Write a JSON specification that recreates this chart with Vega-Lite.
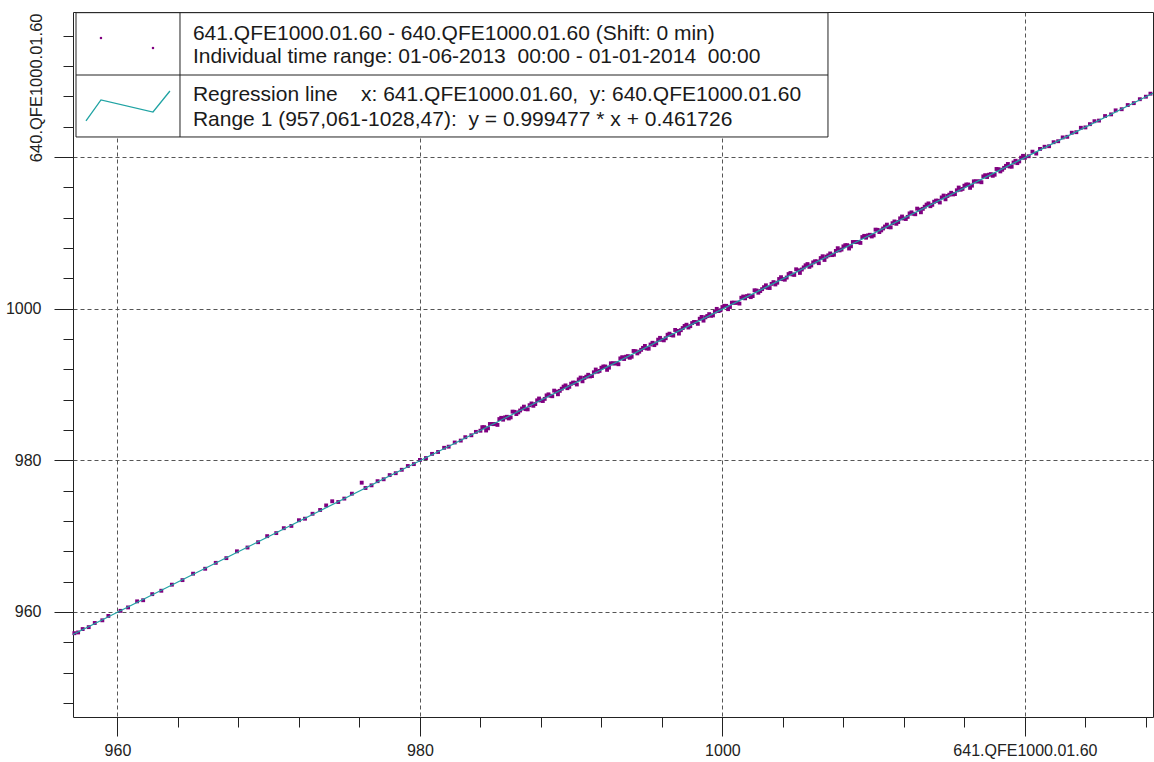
{
  "$schema": "https://vega.github.io/schema/vega-lite/v6.json",
  "width": 1080,
  "height": 705,
  "autosize": {"type": "none"},
  "padding": {"left": 73, "top": 12, "right": 1, "bottom": 45},
  "background": "white",
  "config": {"view": {"stroke": "#222222", "strokeWidth": 1}, "font": "Liberation Sans"},
  "datasets": {
    "pts": [
      {"x":957.15,"y":957.2},{"x":957.4,"y":957.3},{"x":957.7,"y":957.75},{"x":958.1,"y":958.0},{"x":958.5,"y":958.55},{"x":959.0,"y":958.9},{"x":959.4,"y":959.48},{"x":960.2,"y":960.15},{"x":960.7,"y":960.6},{"x":961.3,"y":961.4},{"x":961.7,"y":961.55},{"x":962.3,"y":962.35},{"x":962.9,"y":962.8},{"x":963.6,"y":963.6},{"x":964.3,"y":964.2},{"x":965.0,"y":965.05},{"x":965.8,"y":965.7},{"x":966.5,"y":966.48},{"x":967.2,"y":967.1},{"x":967.9,"y":968.0},{"x":968.6,"y":968.5},{"x":969.3,"y":969.2},{"x":969.9,"y":970.0},{"x":970.5,"y":970.4},{"x":971.0,"y":971.05},{"x":971.5,"y":971.35},{"x":972.0,"y":972.1},{"x":972.4,"y":972.3},{"x":972.9,"y":972.95},{"x":973.4,"y":973.45},{"x":973.8,"y":974.05},{"x":974.2,"y":974.6},{"x":974.6,"y":974.5},{"x":975.0,"y":974.95},{"x":975.5,"y":975.6},{"x":976.15,"y":977.05},{"x":976.4,"y":976.35},{"x":976.8,"y":976.7},{"x":977.2,"y":977.25},{"x":977.6,"y":977.5},{"x":978.0,"y":978.05},{"x":978.4,"y":978.3},{"x":978.8,"y":978.75},{"x":979.2,"y":979.25},{"x":979.6,"y":979.5},{"x":980.0,"y":980.05},{"x":980.4,"y":980.3},{"x":980.8,"y":980.85},{"x":981.2,"y":981.1},{"x":981.6,"y":981.65},{"x":981.9,"y":981.8},{"x":982.3,"y":982.35},{"x":982.7,"y":982.6},{"x":983.0,"y":983.05},{"x":983.4,"y":983.3},{"x":983.7,"y":983.75},{"x":984.0,"y":983.9},
      {"x":984.25,"y":984.37},{"x":984.5,"y":984.22},{"x":984.75,"y":984.79},{"x":985,"y":984.79},{"x":985.25,"y":985.44},{"x":985.5,"y":985.36},{"x":985.75,"y":985.74},{"x":986,"y":985.66},{"x":986.25,"y":986.39},{"x":986.5,"y":986.32},{"x":986.75,"y":986.83},{"x":987,"y":986.75},{"x":987.25,"y":987.27},{"x":987.5,"y":987.19},{"x":987.75,"y":987.91},{"x":988,"y":987.89},
      {"x":988.25,"y":988.1},{"x":988.5,"y":988.7},{"x":988.75,"y":988.45},{"x":989,"y":989.06},{"x":989.25,"y":989.16},{"x":989.5,"y":989.72},{"x":989.75,"y":989.51},{"x":990,"y":990.1},{"x":990.25,"y":990.23},{"x":990.5,"y":990.67},{"x":990.75,"y":990.42},{"x":991,"y":991.03},{"x":991.25,"y":991.06},{"x":991.5,"y":991.61},{"x":991.75,"y":991.68},{"x":992,"y":992.21},
      {"x":992.25,"y":992.37},{"x":992.5,"y":992.22},{"x":992.75,"y":992.79},{"x":993,"y":992.79},{"x":993.25,"y":993.44},{"x":993.5,"y":993.36},{"x":993.75,"y":993.74},{"x":994,"y":993.66},{"x":994.25,"y":994.39},{"x":994.5,"y":994.32},{"x":994.75,"y":994.83},{"x":995,"y":994.75},{"x":995.25,"y":995.27},{"x":995.5,"y":995.19},{"x":995.75,"y":995.91},{"x":996,"y":995.89},
      {"x":996.25,"y":996.1},{"x":996.5,"y":996.7},{"x":996.75,"y":996.45},{"x":997,"y":997.06},{"x":997.25,"y":997.16},{"x":997.5,"y":997.72},{"x":997.75,"y":997.51},{"x":998,"y":998.1},{"x":998.25,"y":998.23},{"x":998.5,"y":998.67},{"x":998.75,"y":998.42},{"x":999,"y":999.03},{"x":999.25,"y":999.06},{"x":999.5,"y":999.61},{"x":999.75,"y":999.68},{"x":1000,"y":1000.21},
      {"x":1000.25,"y":1000.37},{"x":1000.5,"y":1000.22},{"x":1000.75,"y":1000.79},{"x":1001,"y":1000.79},{"x":1001.25,"y":1001.44},{"x":1001.5,"y":1001.36},{"x":1001.75,"y":1001.74},{"x":1002,"y":1001.66},{"x":1002.25,"y":1002.39},{"x":1002.5,"y":1002.32},{"x":1002.75,"y":1002.83},{"x":1003,"y":1002.75},{"x":1003.25,"y":1003.27},{"x":1003.5,"y":1003.19},{"x":1003.75,"y":1003.91},{"x":1004,"y":1003.89},
      {"x":1004.25,"y":1004.1},{"x":1004.5,"y":1004.7},{"x":1004.75,"y":1004.45},{"x":1005,"y":1005.06},{"x":1005.25,"y":1005.16},{"x":1005.5,"y":1005.72},{"x":1005.75,"y":1005.51},{"x":1006,"y":1006.1},{"x":1006.25,"y":1006.23},{"x":1006.5,"y":1006.67},{"x":1006.75,"y":1006.42},{"x":1007,"y":1007.03},{"x":1007.25,"y":1007.06},{"x":1007.5,"y":1007.61},{"x":1007.75,"y":1007.68},{"x":1008,"y":1008.21},
      {"x":1008.25,"y":1008.37},{"x":1008.5,"y":1008.22},{"x":1008.75,"y":1008.79},{"x":1009,"y":1008.79},{"x":1009.25,"y":1009.44},{"x":1009.5,"y":1009.36},{"x":1009.75,"y":1009.74},{"x":1010,"y":1009.66},{"x":1010.25,"y":1010.39},{"x":1010.5,"y":1010.32},{"x":1010.75,"y":1010.83},{"x":1011,"y":1010.75},{"x":1011.25,"y":1011.27},{"x":1011.5,"y":1011.19},{"x":1011.75,"y":1011.91},{"x":1012,"y":1011.89},
      {"x":1012.25,"y":1012.1},{"x":1012.5,"y":1012.7},{"x":1012.75,"y":1012.45},{"x":1013,"y":1013.06},{"x":1013.25,"y":1013.16},{"x":1013.5,"y":1013.72},{"x":1013.75,"y":1013.51},{"x":1014,"y":1014.1},{"x":1014.25,"y":1014.23},{"x":1014.5,"y":1014.67},{"x":1014.75,"y":1014.42},{"x":1015,"y":1015.03},{"x":1015.25,"y":1015.06},{"x":1015.5,"y":1015.61},{"x":1015.75,"y":1015.68},{"x":1016,"y":1016.21},
      {"x":1016.25,"y":1016.37},{"x":1016.5,"y":1016.22},{"x":1016.75,"y":1016.79},{"x":1017,"y":1016.79},{"x":1017.25,"y":1017.44},{"x":1017.5,"y":1017.36},{"x":1017.75,"y":1017.74},{"x":1018,"y":1017.66},{"x":1018.25,"y":1018.39},{"x":1018.5,"y":1018.32},{"x":1018.75,"y":1018.83},{"x":1019,"y":1018.75},{"x":1019.25,"y":1019.27},{"x":1019.5,"y":1019.19},{"x":1019.75,"y":1019.91},{"x":1020,"y":1019.89},
      {"x":1020.25,"y":1020.1},{"x":1020.5,"y":1020.7},{"x":1020.75,"y":1020.45},{"x":1021,"y":1021.06},
      {"x":984.125,"y":984.37},{"x":984.375,"y":983.93},{"x":984.625,"y":984.79},{"x":984.875,"y":984.77},{"x":985.125,"y":984.67},{"x":985.375,"y":985.6},{"x":985.625,"y":985.66},{"x":985.875,"y":985.52},{"x":986.125,"y":986.42},{"x":986.375,"y":986.1},{"x":986.625,"y":986.57},{"x":986.875,"y":987.08},{"x":987.125,"y":986.72},{"x":987.375,"y":987.5},{"x":987.625,"y":987.42},{"x":987.875,"y":988.15},
      {"x":988.125,"y":987.82},{"x":988.375,"y":988.56},{"x":988.625,"y":988.51},{"x":988.875,"y":989.19},{"x":989.125,"y":988.71},{"x":989.375,"y":989.44},{"x":989.625,"y":989.88},{"x":989.875,"y":989.69},{"x":990.125,"y":990.25},{"x":990.375,"y":990.0},{"x":990.625,"y":990.91},{"x":990.875,"y":990.86},{"x":991.125,"y":991.28},{"x":991.375,"y":991.11},{"x":991.625,"y":991.97},{"x":991.875,"y":991.79},
      {"x":992.125,"y":992.37},{"x":992.375,"y":991.93},{"x":992.625,"y":992.79},{"x":992.875,"y":992.77},{"x":993.125,"y":992.67},{"x":993.375,"y":993.6},{"x":993.625,"y":993.66},{"x":993.875,"y":993.52},{"x":994.125,"y":994.42},{"x":994.375,"y":994.1},{"x":994.625,"y":994.57},{"x":994.875,"y":995.08},{"x":995.125,"y":994.72},{"x":995.375,"y":995.5},{"x":995.625,"y":995.42},{"x":995.875,"y":996.15},
      {"x":996.125,"y":995.82},{"x":996.375,"y":996.56},{"x":996.625,"y":996.51},{"x":996.875,"y":997.19},{"x":997.125,"y":996.71},{"x":997.375,"y":997.44},{"x":997.625,"y":997.88},{"x":997.875,"y":997.69},{"x":998.125,"y":998.25},{"x":998.375,"y":998.0},{"x":998.625,"y":998.91},{"x":998.875,"y":998.86},{"x":999.125,"y":999.28},{"x":999.375,"y":999.11},{"x":999.625,"y":999.97},{"x":999.875,"y":999.79},
      {"x":1000.125,"y":1000.37},{"x":1000.375,"y":999.93},{"x":1000.625,"y":1000.79},{"x":1000.875,"y":1000.77},{"x":1001.125,"y":1000.67},{"x":1001.375,"y":1001.6},{"x":1001.625,"y":1001.66},{"x":1001.875,"y":1001.52},{"x":1002.125,"y":1002.42},{"x":1002.375,"y":1002.1},{"x":1002.625,"y":1002.57},{"x":1002.875,"y":1003.08},{"x":1003.125,"y":1002.72},{"x":1003.375,"y":1003.5},{"x":1003.625,"y":1003.42},{"x":1003.875,"y":1004.15},
      {"x":1004.125,"y":1003.82},{"x":1004.375,"y":1004.56},{"x":1004.625,"y":1004.51},{"x":1004.875,"y":1005.19},{"x":1005.125,"y":1004.71},{"x":1005.375,"y":1005.44},{"x":1005.625,"y":1005.88},{"x":1005.875,"y":1005.69},{"x":1006.125,"y":1006.25},{"x":1006.375,"y":1006.0},{"x":1006.625,"y":1006.91},{"x":1006.875,"y":1006.86},{"x":1007.125,"y":1007.28},{"x":1007.375,"y":1007.11},{"x":1007.625,"y":1007.97},{"x":1007.875,"y":1007.79},
      {"x":1008.125,"y":1008.37},{"x":1008.375,"y":1007.93},{"x":1008.625,"y":1008.79},{"x":1008.875,"y":1008.77},{"x":1009.125,"y":1008.67},{"x":1009.375,"y":1009.6},{"x":1009.625,"y":1009.66},{"x":1009.875,"y":1009.52},{"x":1010.125,"y":1010.42},{"x":1010.375,"y":1010.1},{"x":1010.625,"y":1010.57},{"x":1010.875,"y":1011.08},{"x":1011.125,"y":1010.72},{"x":1011.375,"y":1011.5},{"x":1011.625,"y":1011.42},{"x":1011.875,"y":1012.15},
      {"x":1012.125,"y":1011.82},{"x":1012.375,"y":1012.56},{"x":1012.625,"y":1012.51},{"x":1012.875,"y":1013.19},{"x":1013.125,"y":1012.71},{"x":1013.375,"y":1013.44},{"x":1013.625,"y":1013.88},{"x":1013.875,"y":1013.69},{"x":1014.125,"y":1014.25},{"x":1014.375,"y":1014.0},{"x":1014.625,"y":1014.91},{"x":1014.875,"y":1014.86},{"x":1015.125,"y":1015.28},{"x":1015.375,"y":1015.11},{"x":1015.625,"y":1015.97},{"x":1015.875,"y":1015.79},
      {"x":1016.125,"y":1016.37},{"x":1016.375,"y":1015.93},{"x":1016.625,"y":1016.79},{"x":1016.875,"y":1016.77},{"x":1017.125,"y":1016.67},{"x":1017.375,"y":1017.6},{"x":1017.625,"y":1017.66},{"x":1017.875,"y":1017.52},{"x":1018.125,"y":1018.42},{"x":1018.375,"y":1018.1},{"x":1018.625,"y":1018.57},{"x":1018.875,"y":1019.08},{"x":1019.125,"y":1018.72},{"x":1019.375,"y":1019.5},{"x":1019.625,"y":1019.42},{"x":1019.875,"y":1020.15},
      {"x":1021.3,"y":1021.35},{"x":1021.6,"y":1021.42},{"x":1021.9,"y":1021.95},{"x":1022.2,"y":1022.08},{"x":1022.5,"y":1022.58},{"x":1022.8,"y":1022.66},{"x":1023.1,"y":1023.2},{"x":1023.4,"y":1023.27},{"x":1023.7,"y":1023.85},{"x":1024.0,"y":1023.9},{"x":1024.3,"y":1024.33},{"x":1024.6,"y":1024.72},{"x":1024.9,"y":1024.8},{"x":1025.3,"y":1025.4},{"x":1025.7,"y":1025.62},{"x":1026.0,"y":1026.15},{"x":1026.4,"y":1026.3},{"x":1026.8,"y":1026.85},{"x":1027.2,"y":1027.1},{"x":1027.6,"y":1027.62},{"x":1028.0,"y":1027.95},{"x":1028.3,"y":1028.35}
    ],
    "reg": [{"x":957.061,"y":957.022},{"x":1028.47,"y":1028.394}],
    "box": [{"x":957.26,"x2":1006.98,"y":1022.64,"y2":1039.03}],
    "dividers": [
      {"x":957.26,"x2":1006.98,"y":1030.81,"y2":1030.81},
      {"x":964.135,"x2":964.135,"y":1022.64,"y2":1039.03}
    ],
    "legdots": [{"x":958.91,"y":1035.69},{"x":962.35,"y":1034.37}],
    "legline": [{"o":1,"x":957.92,"y":1024.75},{"o":2,"x":958.91,"y":1027.52},{"o":3,"x":962.35,"y":1025.93},{"o":4,"x":963.47,"y":1028.7}],
    "legtext": [
      {"x":964.99,"y":1035.43,"t":"641.QFE1000.01.60 - 640.QFE1000.01.60 (Shift: 0 min)"},
      {"x":964.99,"y":1032.4,"t":"Individual time range: 01-06-2013 \u00a000:00 - 01-01-2014 \u00a000:00"},
      {"x":964.99,"y":1027.38,"t":"Regression line \u00a0\u00a0\u00a0x: 641.QFE1000.01.60, \u00a0y: 640.QFE1000.01.60"},
      {"x":964.99,"y":1024.13,"t":"Range 1 (957,061-1028,47): \u00a0y = 0.999477 * x + 0.461726"}
    ]
  },
  "layer": [
    {
      "data": {"name": "pts"},
      "mark": {"type": "square", "size": 15, "color": "#800080", "opacity": 1, "strokeWidth": 0},
      "encoding": {
        "x": {"field": "x", "type": "quantitative",
          "scale": {"domain": [957.061, 1028.47], "nice": false, "zero": false},
          "axis": {"orient": "bottom", "values": [960,964,968,972,976,980,984,988,992,996,1000,1004,1008,1012,1016,1020,1024,1028],
            "labels": false, "grid": false, "domain": false, "tickSize": 10, "tickColor": "#222222", "tickWidth": 1, "title": null}},
        "y": {"field": "y", "type": "quantitative",
          "scale": {"domain": [946.15, 1039.12], "nice": false, "zero": false},
          "axis": {"orient": "left", "values": [948,952,956,960,964,968,972,976,980,984,988,992,996,1000,1004,1008,1012,1016,1020,1024,1028,1032,1036],
            "labels": false, "grid": false, "domain": false, "tickSize": 10, "tickColor": "#222222", "tickWidth": 1, "title": null}}
      }
    },
    {
      "data": {"name": "reg"},
      "mark": {"type": "line", "color": "#1fa3a3", "strokeWidth": 1.2},
      "encoding": {
        "x": {"field": "x", "type": "quantitative",
          "axis": {"orient": "bottom", "values": [960, 980, 1000, 1020], "format": "d",
            "tickSize": 19, "tickColor": "#222222", "tickWidth": 1,
            "grid": true, "gridColor": "#555555", "gridDash": [4, 3], "gridOpacity": 1, "gridWidth": 1,
            "domain": false, "labelFontSize": 16, "labelColor": "#222222", "labelFont": "Liberation Sans",
            "labelPadding": 6, "labelFlush": false, "labelOverlap": false, "labelBound": false,
            "labelExpr": "datum.value == 1020 ? '641.QFE1000.01.60' : datum.label", "title": null}},
        "y": {"field": "y", "type": "quantitative",
          "axis": {"orient": "left", "values": [960, 980, 1000, 1020], "format": "d",
            "tickSize": 19, "tickColor": "#222222", "tickWidth": 1,
            "grid": true, "gridColor": "#555555", "gridDash": [4, 3], "gridOpacity": 1, "gridWidth": 1,
            "domain": false, "labelFontSize": 16, "labelColor": "#222222", "labelFont": "Liberation Sans",
            "labelAngle": 0, "labelAlign": "right", "labelBaseline": "middle",
            "labelPadding": 13, "labelOverlap": false, "labelBound": false, "labelFlush": false,
            "labelExpr": "datum.value == 1020 ? '' : datum.label",
            "title": "640.QFE1000.01.60", "titleAngle": -90, "titleX": -37, "titleY": 1,
            "titleAlign": "right", "titleBaseline": "middle", "titleFontSize": 16.5,
            "titleFontWeight": "normal", "titleColor": "#222222", "titleFont": "Liberation Sans"}}
      }
    },
    {
      "data": {"name": "box"},
      "mark": {"type": "rect", "fill": "white", "stroke": "#222222", "strokeWidth": 1},
      "encoding": {
        "x": {"field": "x", "type": "quantitative", "axis": null},
        "x2": {"field": "x2"},
        "y": {"field": "y", "type": "quantitative", "axis": null},
        "y2": {"field": "y2"}
      }
    },
    {
      "data": {"name": "dividers"},
      "mark": {"type": "rule", "color": "#222222", "strokeWidth": 1},
      "encoding": {
        "x": {"field": "x", "type": "quantitative", "axis": null},
        "x2": {"field": "x2"},
        "y": {"field": "y", "type": "quantitative", "axis": null},
        "y2": {"field": "y2"}
      }
    },
    {
      "data": {"name": "legdots"},
      "mark": {"type": "square", "size": 5, "color": "#800080", "opacity": 1},
      "encoding": {
        "x": {"field": "x", "type": "quantitative", "axis": null},
        "y": {"field": "y", "type": "quantitative", "axis": null}
      }
    },
    {
      "data": {"name": "legline"},
      "mark": {"type": "line", "color": "#1fa3a3", "strokeWidth": 1.3},
      "encoding": {
        "x": {"field": "x", "type": "quantitative", "axis": null},
        "y": {"field": "y", "type": "quantitative", "axis": null},
        "order": {"field": "o", "type": "quantitative"}
      }
    },
    {
      "data": {"name": "legtext"},
      "mark": {"type": "text", "align": "left", "baseline": "alphabetic", "fontSize": 21, "font": "Liberation Sans", "color": "#1a1a1a"},
      "encoding": {
        "x": {"field": "x", "type": "quantitative", "axis": null},
        "y": {"field": "y", "type": "quantitative", "axis": null},
        "text": {"field": "t"}
      }
    }
  ],
  "resolve": {"axis": {"x": "independent", "y": "independent"}}
}
